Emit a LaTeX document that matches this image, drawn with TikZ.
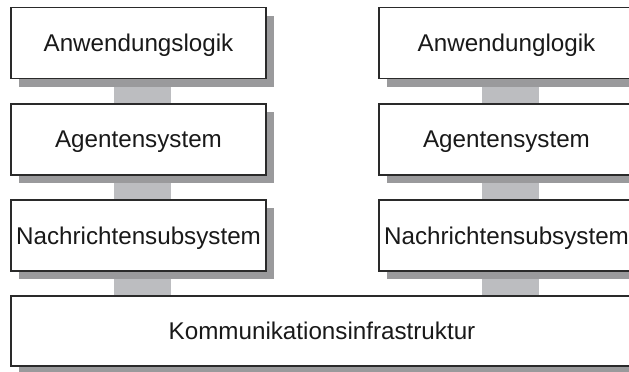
\documentclass[tikz,border=0pt]{standalone}
\usepackage{fontspec}
\setmainfont{Liberation Sans}
\usetikzlibrary{shadows,backgrounds}
\definecolor{shadowgray}{HTML}{9A9A9C}
\definecolor{linkgray}{HTML}{BCBDC0}
\definecolor{edgegray}{HTML}{2A2A2A}
\begin{document}
\begin{tikzpicture}[x=1pt,y=-1pt,
  layerbox/.style={draw=edgegray, line width=1.3pt, fill=white, rectangle,
    minimum width=255pt, minimum height=71pt, inner sep=0pt, text depth=0pt,
    text=black!90, font=\fontsize{24.2}{28}\selectfont,
    drop shadow={shadow xshift=8pt, shadow yshift=-8pt, fill=shadowgray, opacity=1}},
  link/.style={draw=linkgray, line width=57pt}]
  \useasboundingbox (0,0) rectangle (629,372);
  % left stack
  \node[layerbox] (la) at (138.5,43) {Anwendungslogik};
  \node[layerbox] (lb) at (138.5,139.5) {Agentensystem};
  \node[layerbox] (lc) at (138.5,235.5) {Nachrichtensubsystem};
  % right stack
  \node[layerbox] (ra) at (506.5,43) {Anwendunglogik};
  \node[layerbox] (rb) at (506.5,139.5) {Agentensystem};
  \node[layerbox] (rc) at (506.5,235.5) {Nachrichtensubsystem};
  % shared base layer
  \node[layerbox, minimum width=622pt, minimum height=70pt] (base) at (322,331) {Kommunikationsinfrastruktur};
  % vertical links between layers
  \begin{scope}[on background layer]
    \draw[link] ([xshift=4pt]la.south) -- ([xshift=4pt]lb.north);
    \draw[link] ([xshift=4pt]lb.south) -- ([xshift=4pt]lc.north);
    \draw[link] ([xshift=4pt]lc.south) -- ([xshift=4pt]lc.south |- base.north);
    \draw[link] ([xshift=4pt]ra.south) -- ([xshift=4pt]rb.north);
    \draw[link] ([xshift=4pt]rb.south) -- ([xshift=4pt]rc.north);
    \draw[link] ([xshift=4pt]rc.south) -- ([xshift=4pt]rc.south |- base.north);
  \end{scope}
\end{tikzpicture}
\end{document}
